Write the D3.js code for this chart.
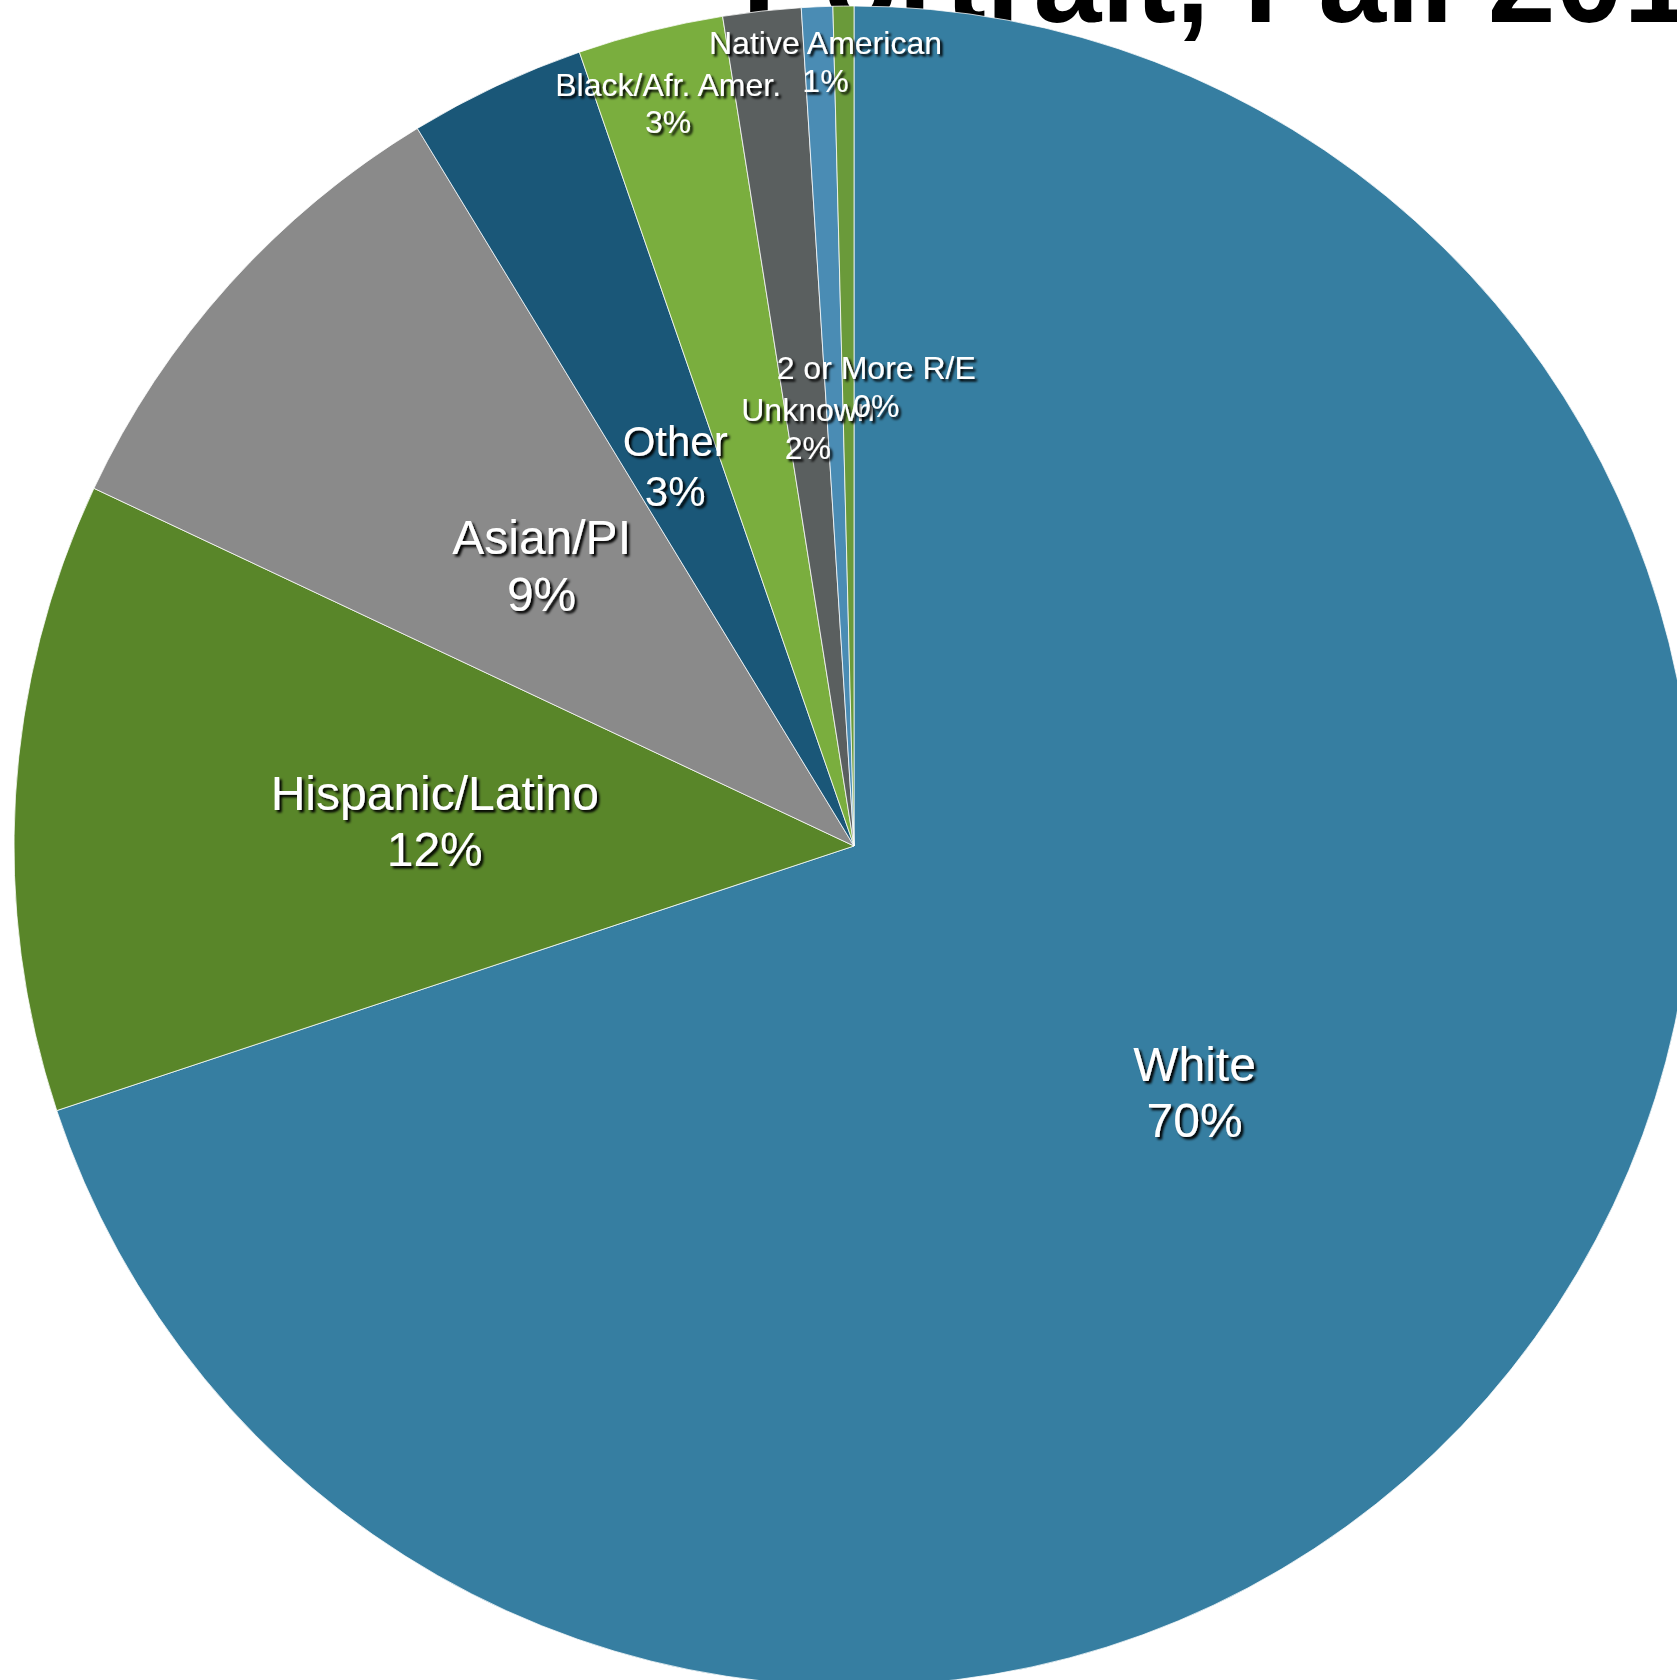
<!DOCTYPE html>
<html>
<head>
<meta charset="utf-8">
<script src="https://cdn.jsdelivr.net/npm/d3@7"></script>
<style>
  html, body { margin: 0; padding: 0; background: #ffffff; }
  svg { display: block; }
  text { font-family: "Liberation Sans", Arial, sans-serif; }
</style>
</head>
<body>
<svg id="chart" width="1677" height="1680"></svg>
<script>
// Enrollment by race/ethnicity (percent of students)
const categories = ["White", "Hispanic/Latino", "Asian/PI", "Other", "Black/Afr. Amer.", "Unknown", "Native American", "2 or More R/E"];
const shares = [69.9, 12.1, 9.3, 3.4, 2.8, 1.5, 0.6, 0.4];
const sliceColors = ["#367ea1", "#598629", "#8a8a8a", "#1a5778", "#7aae3e", "#5a5f5f", "#4a8cb4", "#6a9a3a"];
const titleText = "Portrait, Fall 201";

// Label placement: fraction of radius for the centroid, horizontal nudge, font size
const labelLayout = {
  "White":            { rf: 0.50, nx: 0,  size: 48 },
  "Hispanic/Latino":  { rf: 0.50, nx: 0,  size: 48 },
  "Asian/PI":         { rf: 0.50, nx: 0,  size: 48 },
  "Other":            { rf: 0.50, nx: 0,  size: 42 },
  "Black/Afr. Amer.": { rf: 0.912, nx: 0, size: 32 },
  "Unknown":          { rf: 0.50, nx: 0,  size: 32 },
  "Native American":  { rf: 0.935, nx: 6, size: 32 },
  "2 or More R/E":    { rf: 0.547, nx: 28, size: 32 }
};

const rows = categories.map((c, i) => ({ name: c, value: shares[i], color: sliceColors[i] }));

const svg = d3.select("#chart");
const cx = 854, cy = 846, radius = 840;

// Shadow for the white slice labels
const defs = svg.append("defs");
const shadow = defs.append("filter").attr("id", "txtShadow")
  .attr("x", "-20%").attr("y", "-20%").attr("width", "140%").attr("height", "140%");
shadow.append("feDropShadow")
  .attr("dx", 2.5).attr("dy", 2.5).attr("stdDeviation", 1)
  .attr("flood-color", "#000").attr("flood-opacity", 1);

// Title (sits behind the pie)
svg.append("text")
  .attr("x", 742).attr("y", 22)
  .attr("font-size", 122).attr("font-weight", "bold")
  .attr("fill", "#000")
  .text(titleText);

const pie = d3.pie().value(d => d.value).sort(null).startAngle(0).endAngle(2 * Math.PI);
const arcs = pie(rows);
const arc = d3.arc().innerRadius(0).outerRadius(radius);

const g = svg.append("g").attr("transform", `translate(${cx},${cy})`);

g.selectAll("path.slice")
  .data(arcs)
  .join("path")
  .attr("class", "slice")
  .attr("d", arc)
  .attr("fill", d => d.data.color)
  .attr("stroke", "#ffffff")
  .attr("stroke-opacity", 0.75)
  .attr("stroke-width", 1);

// Labels: name and rounded percent, centred on a centroid at a chosen radius
g.selectAll("g.lbl")
  .data(arcs)
  .join("g")
  .attr("class", "lbl")
  .attr("filter", "url(#txtShadow)")
  .each(function(d) {
    const lay = labelLayout[d.data.name];
    const la = d3.arc().innerRadius(radius * lay.rf).outerRadius(radius * lay.rf);
    const [x0, y0] = la.centroid(d);
    const x = x0 + lay.nx;
    const s = lay.size;
    const lh = s * 1.17;
    const sel = d3.select(this);
    sel.append("text")
      .attr("x", x).attr("y", y0 - lh / 2 + 0.358 * s)
      .attr("text-anchor", "middle")
      .attr("font-size", s).attr("fill", "#ffffff")
      .text(d.data.name);
    sel.append("text")
      .attr("x", x).attr("y", y0 + lh / 2 + 0.358 * s)
      .attr("text-anchor", "middle")
      .attr("font-size", s).attr("fill", "#ffffff")
      .text(Math.round(d.data.value) + "%");
  });
</script>
</body>
</html>
